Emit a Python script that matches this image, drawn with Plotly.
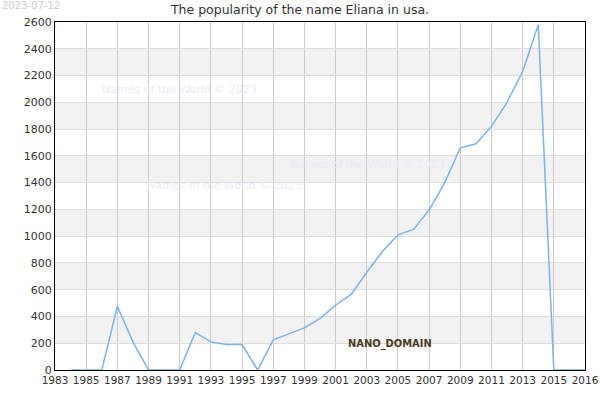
import plotly.graph_objects as go

years = list(range(1984, 2018))
counts = [0, 0, 0, 475, 210, 0, 0, 0, 280, 210, 190, 190, 0, 225, 270, 315, 385,
          485, 565, 730, 885, 1010, 1050, 1195, 1400, 1660, 1690, 1820, 2000, 2230,
          2580, 0, 0, 0]
x_ticks = [1983, 1985, 1987, 1989, 1991, 1993, 1995, 1997, 1999, 2001, 2003, 2005,
           2007, 2009, 2011, 2013, 2015, 2017]
x_labels = ['1983', '1985', '1987', '1989', '1991', '1993', '1995', '1997', '1999',
            '2001', '2003', '2005', '2007', '2009', '2011', '2013', '2015', '2016']
y_ticks = list(range(0, 2601, 200))

fig = go.Figure()
fig.add_trace(go.Scatter(x=years, y=counts, mode='lines',
                         line=dict(color='#7ab4f0', width=1.5)))

# alternating grey bands
for lo in range(200, 2600, 400):
    fig.add_shape(type='rect', xref='paper', x0=0, x1=1, y0=lo, y1=lo + 200,
                  fillcolor='#f2f2f2', line_width=0, layer='below')

for txt, x, y in [('Names of the World © 2023', 0.085, 0.83),
                  ('Names of the World © 2023', 0.44, 0.59),
                  ('Names of the World © 2023', 0.17, 0.53)]:
    fig.add_annotation(text=txt, xref='paper', yref='paper', x=x, y=y, xanchor='left',
                       showarrow=False, font=dict(size=11, color='#ecebf8'))

fig.add_annotation(text='<b>NANO_DOMAIN</b>', x=2004.5, y=200, showarrow=False,
                   font=dict(size=11, color='#4a3c1a', family='DejaVu Sans Condensed'))
fig.add_annotation(text='2023-07-12', xref='paper', yref='paper', x=-55 / 530, y=1 + 24 / 348,
                   xanchor='left', yanchor='top', showarrow=False,
                   font=dict(size=10, color='#cccccc'))

fig.update_layout(
    width=600, height=400, plot_bgcolor='white', paper_bgcolor='white',
    margin=dict(l=55, r=15, t=22, b=30, autoexpand=False), showlegend=False,
    title=dict(text='The popularity of the name Eliana in usa.', x=0.5, y=0.975,
               yanchor='middle', font=dict(size=12.5, color='#333333')),
    font=dict(family='DejaVu Sans', size=11, color='#333333'),
    xaxis=dict(range=[1983, 2017], tickvals=x_ticks, ticktext=x_labels, tickangle=0,
               tickfont=dict(size=10.5),
               showgrid=True, gridcolor='#cccccc', automargin=False,
               showline=True, linecolor='black', mirror=True, zeroline=False),
    yaxis=dict(range=[0, 2600], tickvals=y_ticks, showgrid=True, gridcolor='#dddddd',
               automargin=False,
               showline=True, linecolor='black', mirror=True, zeroline=False),
)
fig.write_html('out.html', post_script="document.body.style.margin='0';",
               config={'displayModeBar': False})
